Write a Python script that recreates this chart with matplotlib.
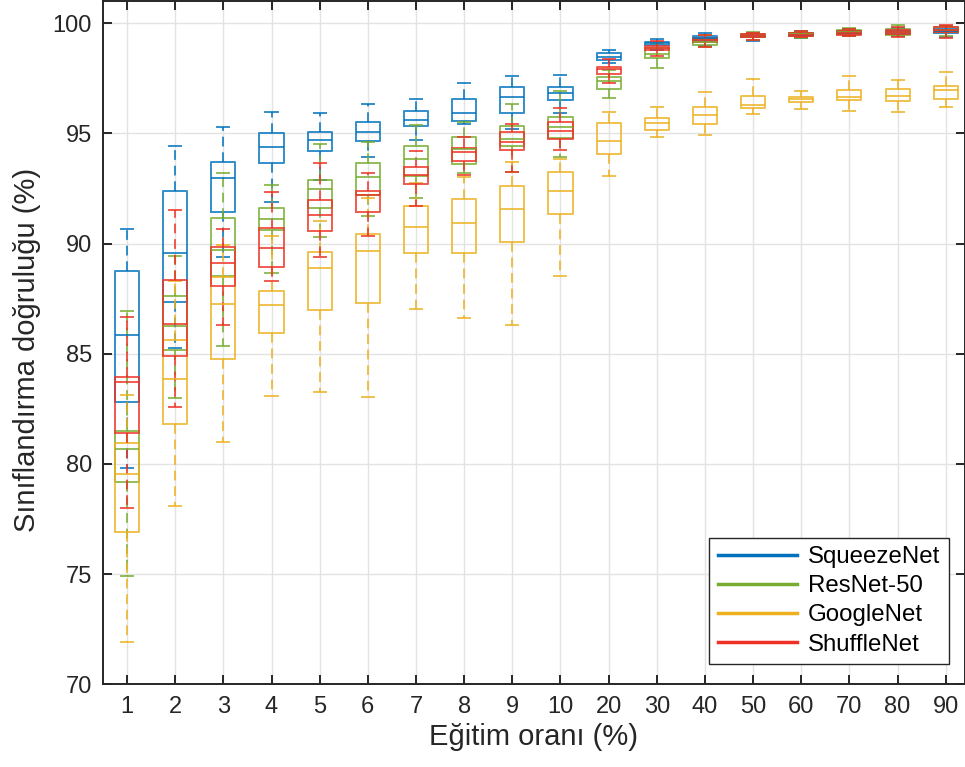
import matplotlib
matplotlib.use('Agg')
import matplotlib.pyplot as plt
from matplotlib.lines import Line2D
import numpy as np

plt.rcParams['font.family'] = ['Liberation Sans', 'DejaVu Sans']

# egitim orani (%) -> x kategorileri
ratios = ['1', '2', '3', '4', '5', '6', '7', '8', '9', '10',
          '20', '30', '40', '50', '60', '70', '80', '90']

# her satir: [alt bıyık, Q1, medyan, Q3, ust bıyık]
squeezenet = [
    [79.84, 82.83, 85.86, 88.76, 90.68],
    [85.27, 87.34, 89.58, 92.36, 94.44],
    [89.40, 91.44, 92.99, 93.72, 95.30],
    [91.90, 93.66, 94.37, 95.00, 95.98],
    [92.89, 94.20, 94.70, 95.08, 95.94],
    [93.91, 94.67, 95.05, 95.51, 96.34],
    [94.70, 95.35, 95.59, 96.01, 96.57],
    [95.40, 95.57, 95.94, 96.54, 97.27],
    [95.20, 95.94, 96.65, 97.09, 97.60],
    [95.91, 96.53, 96.83, 97.09, 97.66],
    [98.20, 98.32, 98.48, 98.62, 98.78],
    [98.80, 99.00, 99.08, 99.15, 99.27],
    [98.95, 99.23, 99.33, 99.41, 99.53],
    [99.20, 99.35, 99.42, 99.48, 99.56],
    [99.30, 99.40, 99.47, 99.55, 99.62],
    [99.40, 99.50, 99.57, 99.64, 99.72],
    [99.40, 99.50, 99.58, 99.66, 99.78],
    [99.35, 99.55, 99.65, 99.75, 99.85],
]

resnet50 = [
    [74.94, 79.19, 80.68, 81.50, 86.92],
    [82.98, 85.17, 86.27, 87.63, 89.44],
    [85.33, 88.51, 89.70, 91.15, 93.20],
    [88.66, 90.60, 91.09, 91.59, 92.67],
    [90.29, 91.59, 92.46, 92.89, 94.50],
    [91.26, 92.21, 93.00, 93.66, 94.60],
    [92.08, 93.07, 93.82, 94.44, 95.38],
    [93.20, 93.62, 94.30, 94.85, 95.53],
    [93.26, 94.43, 94.75, 95.33, 96.33],
    [93.91, 94.80, 95.30, 95.75, 96.93],
    [96.62, 97.01, 97.36, 97.57, 97.85],
    [97.97, 98.40, 98.58, 98.85, 99.10],
    [98.92, 99.00, 99.15, 99.28, 99.45],
    [99.25, 99.37, 99.43, 99.50, 99.58],
    [99.33, 99.42, 99.50, 99.57, 99.65],
    [99.42, 99.49, 99.58, 99.68, 99.77],
    [99.42, 99.45, 99.60, 99.72, 99.89],
    [99.40, 99.60, 99.68, 99.80, 99.88],
]

googlenet = [
    [71.91, 76.92, 79.56, 80.96, 83.11],
    [78.08, 81.83, 83.86, 85.62, 88.28],
    [81.00, 84.76, 87.25, 88.47, 89.94],
    [83.10, 85.92, 87.21, 87.83, 90.32],
    [83.25, 86.98, 88.88, 89.61, 91.03],
    [83.02, 87.30, 89.68, 90.41, 92.07],
    [87.03, 89.57, 90.76, 91.71, 92.76],
    [86.63, 89.57, 90.92, 92.01, 93.00],
    [86.30, 90.06, 91.55, 92.61, 93.69],
    [88.54, 91.33, 92.40, 93.24, 93.84],
    [93.08, 94.05, 94.65, 95.48, 95.98],
    [94.82, 95.14, 95.46, 95.68, 96.21],
    [94.91, 95.44, 95.82, 96.21, 96.87],
    [95.86, 96.13, 96.30, 96.71, 97.45],
    [96.09, 96.42, 96.54, 96.66, 96.90],
    [96.00, 96.50, 96.66, 96.96, 97.60],
    [95.98, 96.45, 96.71, 97.02, 97.43],
    [96.18, 96.56, 96.96, 97.16, 97.80],
]

shufflenet = [
    [77.99, 81.41, 83.70, 83.93, 86.65],
    [82.57, 84.90, 86.35, 88.33, 91.50],
    [86.29, 88.06, 89.11, 89.84, 90.67],
    [88.28, 88.93, 89.79, 90.70, 92.33],
    [89.37, 90.56, 91.30, 91.98, 93.64],
    [90.32, 91.44, 92.21, 92.36, 93.19],
    [91.72, 92.69, 93.11, 93.49, 94.20],
    [93.11, 93.75, 94.14, 94.35, 94.85],
    [93.25, 94.25, 94.61, 95.05, 95.42],
    [94.22, 94.74, 95.12, 95.51, 96.16],
    [97.28, 97.68, 97.92, 98.02, 98.37],
    [98.49, 98.76, 98.85, 98.94, 99.20],
    [98.93, 99.12, 99.22, 99.31, 99.45],
    [99.23, 99.35, 99.42, 99.49, 99.55],
    [99.35, 99.40, 99.48, 99.56, 99.64],
    [99.41, 99.48, 99.57, 99.66, 99.75],
    [99.35, 99.50, 99.58, 99.70, 99.83],
    [99.31, 99.58, 99.68, 99.83, 99.92],
]

series = [('SqueezeNet', squeezenet, '#0072BD'),
          ('ResNet-50', resnet50, '#77AC30'),
          ('GoogleNet', googlenet, '#EDB120'),
          ('ShuffleNet', shufflenet, '#EE3124')]

dark = '#262626'

fig = plt.figure(figsize=(9.65, 7.67), dpi=100)
ax = fig.add_axes([0.1067, 0.1076, 0.8933, 0.8911])

pos = np.arange(1, len(ratios) + 1)

for name, rows, col in series:
    stats = []
    for r in rows:
        stats.append({'whislo': r[0], 'q1': r[1], 'med': r[2],
                      'q3': r[3], 'whishi': r[4], 'fliers': []})
    ax.bxp(stats, positions=pos, widths=0.5, showfliers=False,
           capwidths=0.25, manage_ticks=False,
           boxprops=dict(color=col, lw=1.4, alpha=0.8),
           medianprops=dict(color=col, lw=1.4, alpha=0.8),
           whiskerprops=dict(color=col, lw=1.4, alpha=0.8,
                             linestyle=(0, (5, 3))),
           capprops=dict(color=col, lw=1.4, alpha=0.8))

ax.set_xlim(0.5, 18.4)
ax.set_ylim(70, 101)
ax.set_xticks(pos)
ax.set_xticklabels(ratios)
ax.set_yticks(np.arange(70, 101, 5))

ax.grid(True, color='#e3e3e3', lw=1.0)
ax.set_axisbelow(True)

for s in ax.spines.values():
    s.set_color(dark)
    s.set_linewidth(1.4)

ax.tick_params(direction='in', length=6.5, width=1.4, colors=dark,
               labelsize=17, top=True, right=True, pad=8)
for t in ax.get_xticklabels() + ax.get_yticklabels():
    t.set_color(dark)

ax.set_xlabel('Eğitim oranı (%)', fontsize=21, color=dark, labelpad=4)
ax.set_ylabel('Sınıflandırma doğruluğu (%)', fontsize=21, color=dark,
              labelpad=8)
ax.yaxis.label.set_y(0.489)

handles = [Line2D([0], [0], color=c, lw=2.5) for _, _, c in series]
labels = [n for n, _, _ in series]
leg = ax.legend(handles, labels, loc='lower right',
                bbox_to_anchor=(0.981, 0.030), borderaxespad=0,
                fontsize=17.3, handlelength=3.3, labelspacing=0.3,
                handletextpad=0.45, borderpad=0.35, fancybox=False,
                framealpha=1, edgecolor=dark)
leg.get_frame().set_linewidth(1.0)

fig.savefig('out.png', dpi=100)
